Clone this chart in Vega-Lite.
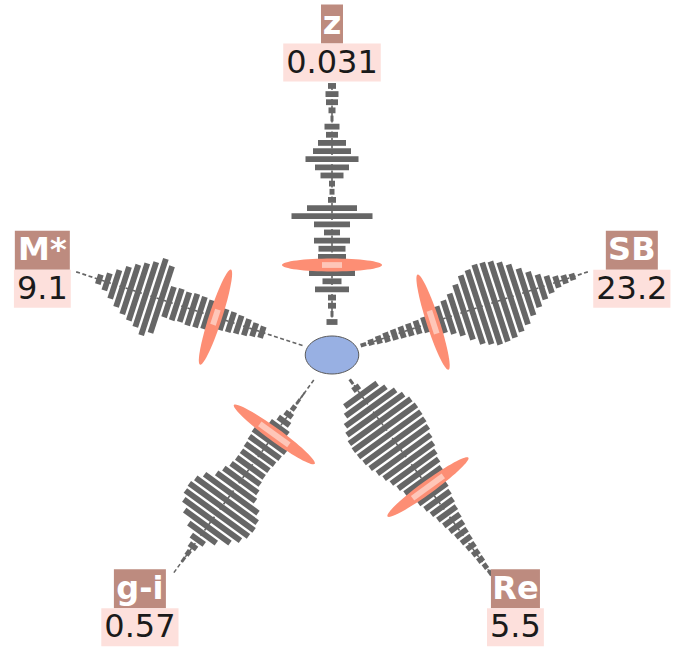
{
  "$schema": "https://vega.github.io/schema/vega-lite/v6.json",
  "width": 683,
  "height": 649,
  "autosize": {"type": "none"},
  "padding": 0,
  "background": "white",
  "config": {"view": {"stroke": null}},
  "datasets": {
    "arms": [
      {"arm": "z", "order": 0, "value": "0.031", "markerBin": 7},
      {"arm": "SB", "order": 1, "value": "23.2", "markerBin": 9},
      {"arm": "Re", "order": 2, "value": "5.5", "markerBin": 16},
      {"arm": "g-i", "order": 3, "value": "0.57", "markerBin": 8},
      {"arm": "M*", "order": 4, "value": "9.1", "markerBin": 11}
    ],
    "bins": [
      {"arm": "z", "bin": 0, "count": 11}, {"arm": "z", "bin": 1, "count": 3}, {"arm": "z", "bin": 2, "count": 8},
      {"arm": "z", "bin": 3, "count": 8}, {"arm": "z", "bin": 4, "count": 34}, {"arm": "z", "bin": 5, "count": 19},
      {"arm": "z", "bin": 6, "count": 46}, {"arm": "z", "bin": 7, "count": 20}, {"arm": "z", "bin": 8, "count": 28},
      {"arm": "z", "bin": 9, "count": 27}, {"arm": "z", "bin": 10, "count": 36}, {"arm": "z", "bin": 11, "count": 16},
      {"arm": "z", "bin": 12, "count": 36}, {"arm": "z", "bin": 13, "count": 81}, {"arm": "z", "bin": 14, "count": 50},
      {"arm": "z", "bin": 15, "count": 8}, {"arm": "z", "bin": 16, "count": 5}, {"arm": "z", "bin": 17, "count": 6},
      {"arm": "z", "bin": 18, "count": 23}, {"arm": "z", "bin": 19, "count": 34}, {"arm": "z", "bin": 20, "count": 53},
      {"arm": "z", "bin": 21, "count": 38}, {"arm": "z", "bin": 22, "count": 28}, {"arm": "z", "bin": 23, "count": 12},
      {"arm": "z", "bin": 24, "count": 15}, {"arm": "z", "bin": 25, "count": 3}, {"arm": "z", "bin": 26, "count": 7},
      {"arm": "z", "bin": 27, "count": 12}, {"arm": "z", "bin": 28, "count": 13}, {"arm": "z", "bin": 29, "count": 8},

      {"arm": "SB", "bin": 0, "count": 4}, {"arm": "SB", "bin": 1, "count": 6}, {"arm": "SB", "bin": 2, "count": 8},
      {"arm": "SB", "bin": 3, "count": 10}, {"arm": "SB", "bin": 4, "count": 11}, {"arm": "SB", "bin": 5, "count": 12},
      {"arm": "SB", "bin": 6, "count": 13}, {"arm": "SB", "bin": 7, "count": 14}, {"arm": "SB", "bin": 8, "count": 16},
      {"arm": "SB", "bin": 9, "count": 24}, {"arm": "SB", "bin": 10, "count": 28}, {"arm": "SB", "bin": 11, "count": 35},
      {"arm": "SB", "bin": 12, "count": 44}, {"arm": "SB", "bin": 13, "count": 58}, {"arm": "SB", "bin": 14, "count": 72},
      {"arm": "SB", "bin": 15, "count": 78}, {"arm": "SB", "bin": 16, "count": 84}, {"arm": "SB", "bin": 17, "count": 83},
      {"arm": "SB", "bin": 18, "count": 80}, {"arm": "SB", "bin": 19, "count": 73}, {"arm": "SB", "bin": 20, "count": 63},
      {"arm": "SB", "bin": 21, "count": 49}, {"arm": "SB", "bin": 22, "count": 37}, {"arm": "SB", "bin": 23, "count": 26},
      {"arm": "SB", "bin": 24, "count": 18}, {"arm": "SB", "bin": 25, "count": 12}, {"arm": "SB", "bin": 26, "count": 9},
      {"arm": "SB", "bin": 27, "count": 7},

      {"arm": "Re", "bin": 0, "count": 3}, {"arm": "Re", "bin": 1, "count": 8}, {"arm": "Re", "bin": 2, "count": 40},
      {"arm": "Re", "bin": 3, "count": 50}, {"arm": "Re", "bin": 4, "count": 62}, {"arm": "Re", "bin": 5, "count": 70},
      {"arm": "Re", "bin": 6, "count": 76}, {"arm": "Re", "bin": 7, "count": 78}, {"arm": "Re", "bin": 8, "count": 77},
      {"arm": "Re", "bin": 9, "count": 75}, {"arm": "Re", "bin": 10, "count": 72}, {"arm": "Re", "bin": 11, "count": 66},
      {"arm": "Re", "bin": 12, "count": 61}, {"arm": "Re", "bin": 13, "count": 55}, {"arm": "Re", "bin": 14, "count": 50},
      {"arm": "Re", "bin": 15, "count": 45}, {"arm": "Re", "bin": 16, "count": 38}, {"arm": "Re", "bin": 17, "count": 35},
      {"arm": "Re", "bin": 18, "count": 31}, {"arm": "Re", "bin": 19, "count": 27}, {"arm": "Re", "bin": 20, "count": 23},
      {"arm": "Re", "bin": 21, "count": 20}, {"arm": "Re", "bin": 22, "count": 17}, {"arm": "Re", "bin": 23, "count": 14},
      {"arm": "Re", "bin": 24, "count": 12}, {"arm": "Re", "bin": 25, "count": 10}, {"arm": "Re", "bin": 26, "count": 8},
      {"arm": "Re", "bin": 27, "count": 7}, {"arm": "Re", "bin": 28, "count": 5}, {"arm": "Re", "bin": 29, "count": 4},

      {"arm": "g-i", "bin": 2, "count": 2}, {"arm": "g-i", "bin": 3, "count": 3}, {"arm": "g-i", "bin": 4, "count": 5},
      {"arm": "g-i", "bin": 5, "count": 9}, {"arm": "g-i", "bin": 6, "count": 14}, {"arm": "g-i", "bin": 7, "count": 22},
      {"arm": "g-i", "bin": 8, "count": 36}, {"arm": "g-i", "bin": 9, "count": 40}, {"arm": "g-i", "bin": 10, "count": 38},
      {"arm": "g-i", "bin": 11, "count": 36}, {"arm": "g-i", "bin": 12, "count": 34}, {"arm": "g-i", "bin": 13, "count": 34},
      {"arm": "g-i", "bin": 14, "count": 36}, {"arm": "g-i", "bin": 15, "count": 42}, {"arm": "g-i", "bin": 16, "count": 48},
      {"arm": "g-i", "bin": 17, "count": 66}, {"arm": "g-i", "bin": 18, "count": 76}, {"arm": "g-i", "bin": 19, "count": 80},
      {"arm": "g-i", "bin": 20, "count": 78}, {"arm": "g-i", "bin": 21, "count": 70}, {"arm": "g-i", "bin": 22, "count": 56},
      {"arm": "g-i", "bin": 23, "count": 34}, {"arm": "g-i", "bin": 24, "count": 16}, {"arm": "g-i", "bin": 25, "count": 9},
      {"arm": "g-i", "bin": 26, "count": 5}, {"arm": "g-i", "bin": 27, "count": 3},

      {"arm": "M*", "bin": 5, "count": 12}, {"arm": "M*", "bin": 6, "count": 14}, {"arm": "M*", "bin": 7, "count": 17},
      {"arm": "M*", "bin": 8, "count": 19}, {"arm": "M*", "bin": 9, "count": 21}, {"arm": "M*", "bin": 10, "count": 22},
      {"arm": "M*", "bin": 11, "count": 16}, {"arm": "M*", "bin": 12, "count": 30}, {"arm": "M*", "bin": 13, "count": 32},
      {"arm": "M*", "bin": 14, "count": 33}, {"arm": "M*", "bin": 15, "count": 31}, {"arm": "M*", "bin": 16, "count": 33},
      {"arm": "M*", "bin": 17, "count": 32}, {"arm": "M*", "bin": 18, "count": 70}, {"arm": "M*", "bin": 19, "count": 80},
      {"arm": "M*", "bin": 20, "count": 68}, {"arm": "M*", "bin": 21, "count": 60}, {"arm": "M*", "bin": 22, "count": 52},
      {"arm": "M*", "bin": 23, "count": 42}, {"arm": "M*", "bin": 24, "count": 30}, {"arm": "M*", "bin": 25, "count": 18},
      {"arm": "M*", "bin": 26, "count": 10}
    ]
  },
  "layer": [
    {
      "description": "dashed spine of each arm",
      "data": {"name": "arms"},
      "transform": [
        {"calculate": "(90 - 72 * datum.order) * PI / 180", "as": "theta"},
        {"calculate": "31 * cos(datum.theta)", "as": "sx"},
        {"calculate": "31 * sin(datum.theta)", "as": "sy"},
        {"calculate": "271 * cos(datum.theta)", "as": "ex"},
        {"calculate": "271 * sin(datum.theta)", "as": "ey"}
      ],
      "mark": {"type": "rule", "stroke": "#666666", "strokeWidth": 1.6, "strokeDash": [4, 2.5]},
      "encoding": {
        "x": {"field": "sx", "type": "quantitative", "scale": {"domain": [-332, 351], "nice": false, "zero": false}, "axis": null},
        "y": {"field": "sy", "type": "quantitative", "scale": {"domain": [-294, 355], "nice": false, "zero": false}, "axis": null},
        "x2": {"field": "ex"},
        "y2": {"field": "ey"}
      }
    },
    {
      "description": "histogram bars, drawn across each arm",
      "data": {"name": "bins"},
      "transform": [
        {"lookup": "arm", "from": {"data": {"name": "arms"}, "key": "arm", "fields": ["order", "markerBin"]}},
        {"calculate": "(90 - 72 * datum.order) * PI / 180", "as": "theta"},
        {"calculate": "33 + 8.14 * datum.bin", "as": "r"},
        {"calculate": "datum.r * cos(datum.theta) + datum.count / 2 * sin(datum.theta)", "as": "x1"},
        {"calculate": "datum.r * sin(datum.theta) - datum.count / 2 * cos(datum.theta)", "as": "y1"},
        {"calculate": "datum.r * cos(datum.theta) - datum.count / 2 * sin(datum.theta)", "as": "x2"},
        {"calculate": "datum.r * sin(datum.theta) + datum.count / 2 * cos(datum.theta)", "as": "y2"}
      ],
      "mark": {"type": "rule", "stroke": "#666666", "strokeWidth": 5.8, "strokeCap": "butt"},
      "encoding": {
        "x": {"field": "x1", "type": "quantitative", "scale": {"domain": [-332, 351], "nice": false, "zero": false}, "axis": null},
        "y": {"field": "y1", "type": "quantitative", "scale": {"domain": [-294, 355], "nice": false, "zero": false}, "axis": null},
        "x2": {"field": "x2"},
        "y2": {"field": "y2"}
      }
    },
    {
      "description": "value marker on each arm",
      "data": {"name": "arms"},
      "transform": [
        {"calculate": "(90 - 72 * datum.order) * PI / 180", "as": "theta"},
        {"calculate": "33 + 8.14 * datum.markerBin", "as": "r"},
        {"calculate": "datum.r * cos(datum.theta)", "as": "px"},
        {"calculate": "datum.r * sin(datum.theta)", "as": "py"},
        {"calculate": "72 * datum.order", "as": "rot"}
      ],
      "mark": {"type": "point", "shape": "M -1 0 A 1 0.13 0 1 1 1 0 A 1 0.13 0 1 1 -1 0 Z", "size": 10000, "filled": true, "fill": "#fd8e74", "opacity": 1, "strokeWidth": 0},
      "encoding": {
        "x": {"field": "px", "type": "quantitative", "scale": {"domain": [-332, 351], "nice": false, "zero": false}, "axis": null},
        "y": {"field": "py", "type": "quantitative", "scale": {"domain": [-294, 355], "nice": false, "zero": false}, "axis": null},
        "angle": {"field": "rot", "type": "quantitative", "scale": null}
      }
    },
    {
      "description": "bin holding the value, highlighted over the marker",
      "data": {"name": "bins"},
      "transform": [
        {"lookup": "arm", "from": {"data": {"name": "arms"}, "key": "arm", "fields": ["order", "markerBin"]}},
        {"filter": "datum.bin == datum.markerBin"},
        {"calculate": "(90 - 72 * datum.order) * PI / 180", "as": "theta"},
        {"calculate": "33 + 8.14 * datum.bin", "as": "r"},
        {"calculate": "datum.r * cos(datum.theta) + datum.count / 2 * sin(datum.theta)", "as": "x1"},
        {"calculate": "datum.r * sin(datum.theta) - datum.count / 2 * cos(datum.theta)", "as": "y1"},
        {"calculate": "datum.r * cos(datum.theta) - datum.count / 2 * sin(datum.theta)", "as": "x2"},
        {"calculate": "datum.r * sin(datum.theta) + datum.count / 2 * cos(datum.theta)", "as": "y2"}
      ],
      "mark": {"type": "rule", "stroke": "#fec6b8", "strokeWidth": 5.8, "strokeCap": "butt"},
      "encoding": {
        "x": {"field": "x1", "type": "quantitative", "scale": {"domain": [-332, 351], "nice": false, "zero": false}, "axis": null},
        "y": {"field": "y1", "type": "quantitative", "scale": {"domain": [-294, 355], "nice": false, "zero": false}, "axis": null},
        "x2": {"field": "x2"},
        "y2": {"field": "y2"}
      }
    },
    {
      "description": "central body",
      "data": {"values": [{"body": "centre"}]},
      "mark": {"type": "point", "shape": "M -1 0 A 1 0.71 0 1 1 1 0 A 1 0.71 0 1 1 -1 0 Z", "size": 2862, "filled": true, "fill": "#98b0e3", "stroke": "#5a5a5a", "strokeWidth": 1, "opacity": 1},
      "encoding": {
        "x": {"datum": 0, "type": "quantitative", "scale": {"domain": [-332, 351], "nice": false, "zero": false}, "axis": null},
        "y": {"datum": 0, "type": "quantitative", "scale": {"domain": [-294, 355], "nice": false, "zero": false}, "axis": null}
      }
    },
    {
      "description": "arm labels: name over value, set just past the end of each arm",
      "data": {"name": "arms"},
      "transform": [
        {"calculate": "(90 - 72 * datum.order) * PI / 180", "as": "theta"},
        {"calculate": "cos(datum.theta)", "as": "c"},
        {"calculate": "sin(datum.theta)", "as": "s"},
        {"calculate": "length(datum.value) * 20.35 - 4.2", "as": "vw"},
        {"calculate": "datum.arm == 'z' ? 22 : datum.arm == 'M*' ? 55 : datum.arm == 'Re' ? 49 : 52", "as": "nw"},
        {"calculate": "max(datum.vw, datum.nw) / 2", "as": "hw"},
        {"calculate": "abs(datum.s) > 0.5 ? 0.85 * datum.hw : datum.hw + 3.5", "as": "off"},
        {"calculate": "271 * datum.c + (datum.c > 0.1 ? datum.off : datum.c < -0.1 ? -datum.off : 0)", "as": "lx"},
        {"calculate": "271 * datum.s + (datum.s > 0.5 ? 40.5 : datum.s < -0.5 ? -34 : 1.5)", "as": "ly"},
        {"calculate": "datum.lx - datum.nw / 2", "as": "nx1"},
        {"calculate": "datum.lx + datum.nw / 2", "as": "nx2"},
        {"calculate": "datum.lx - datum.vw / 2", "as": "vx1"},
        {"calculate": "datum.lx + datum.vw / 2", "as": "vx2"},
        {"calculate": "datum.ly + 39", "as": "ntop"},
        {"calculate": "datum.ly - 38", "as": "vbot"},
        {"calculate": "datum.ly + 9.5", "as": "nbase"},
        {"calculate": "datum.ly - 29", "as": "vbase"}
      ],
      "layer": [
        {
          "mark": {"type": "rect", "fill": "#bd8b7f"},
          "encoding": {
            "x": {"field": "nx1", "type": "quantitative", "scale": {"domain": [-332, 351], "nice": false, "zero": false}, "axis": null},
            "x2": {"field": "nx2"},
            "y": {"field": "ly", "type": "quantitative", "scale": {"domain": [-294, 355], "nice": false, "zero": false}, "axis": null},
            "y2": {"field": "ntop"}
          }
        },
        {
          "mark": {"type": "rect", "fill": "#fde0dc"},
          "encoding": {
            "x": {"field": "vx1", "type": "quantitative", "scale": {"domain": [-332, 351], "nice": false, "zero": false}, "axis": null},
            "x2": {"field": "vx2"},
            "y": {"field": "vbot", "type": "quantitative", "scale": {"domain": [-294, 355], "nice": false, "zero": false}, "axis": null},
            "y2": {"field": "ly"}
          }
        },
        {
          "mark": {"type": "text", "font": "DejaVu Sans", "fontSize": 32, "fontWeight": "bold", "fill": "white", "align": "center", "baseline": "alphabetic"},
          "encoding": {
            "x": {"field": "lx", "type": "quantitative", "scale": {"domain": [-332, 351], "nice": false, "zero": false}, "axis": null},
            "y": {"field": "nbase", "type": "quantitative", "scale": {"domain": [-294, 355], "nice": false, "zero": false}, "axis": null},
            "text": {"field": "arm"}
          }
        },
        {
          "mark": {"type": "text", "font": "DejaVu Sans", "fontSize": 32, "fill": "#1a1a1a", "align": "center", "baseline": "alphabetic"},
          "encoding": {
            "x": {"field": "lx", "type": "quantitative", "scale": {"domain": [-332, 351], "nice": false, "zero": false}, "axis": null},
            "y": {"field": "vbase", "type": "quantitative", "scale": {"domain": [-294, 355], "nice": false, "zero": false}, "axis": null},
            "text": {"field": "value"}
          }
        }
      ]
    }
  ]
}
